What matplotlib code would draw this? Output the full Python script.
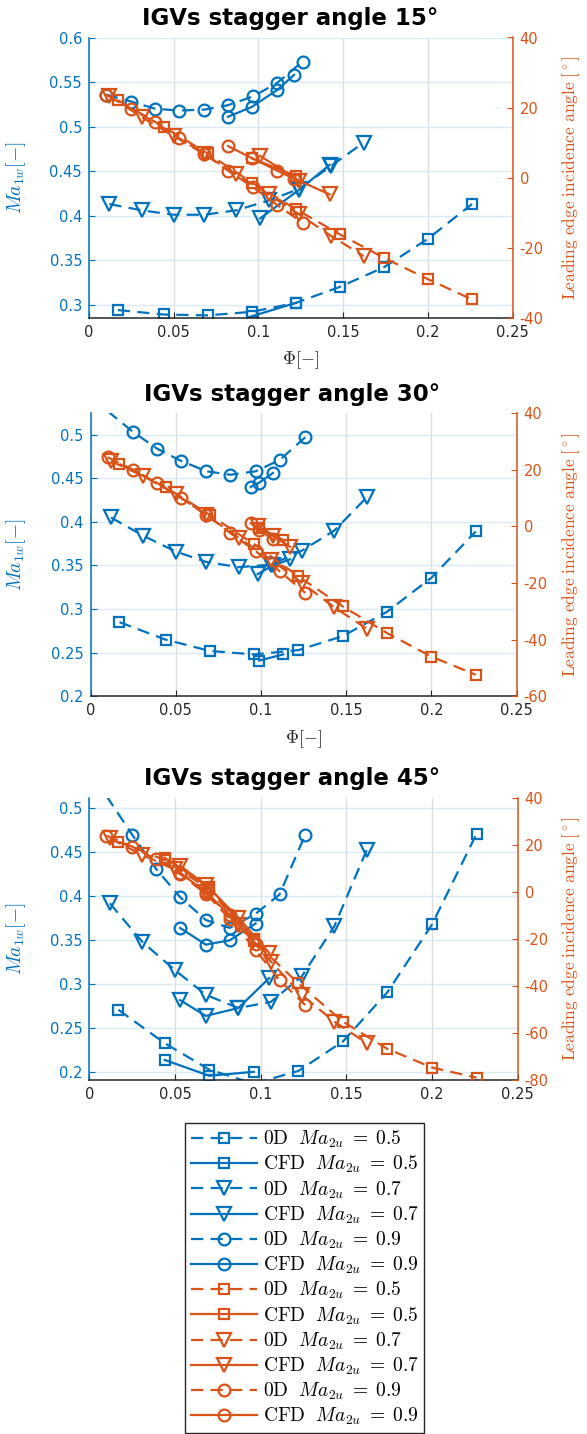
import matplotlib
matplotlib.use('Agg')
import matplotlib.pyplot as plt
from matplotlib.ticker import FuncFormatter

plt.rcParams['mathtext.fontset'] = 'cm'
plt.rcParams['font.family'] = ['DejaVu Sans']

BLUE = '#0072BD'
ORANGE = '#D95319'

# 0D model: phi grid per Ma2u
x_sq_0d = [0.017, 0.044, 0.070, 0.096, 0.122, 0.148, 0.174, 0.200, 0.226]
x_tri_0d = [0.012, 0.031, 0.050, 0.068, 0.087, 0.106, 0.124, 0.143, 0.162]
x_cir_0d = [0.010, 0.025, 0.039, 0.053, 0.068, 0.082, 0.097, 0.111, 0.126]

# --- stagger 15 deg
ma_sq_0d_15 = [0.294, 0.289, 0.288, 0.292, 0.302, 0.320, 0.342, 0.374, 0.413]
ma_tri_0d_15 = [0.413, 0.406, 0.401, 0.401, 0.406, 0.417, 0.430, 0.456, 0.482]
ma_cir_0d_15 = [0.536, 0.528, 0.520, 0.518, 0.519, 0.524, 0.534, 0.549, 0.573]
ang_sq_0d_15 = [22.1, 14.5, 6.9, -1.4, -9.0, -16.2, -22.9, -29.0, -34.8]
ang_tri_0d_15 = [23.3, 17.3, 11.9, 6.7, 0.9, -4.8, -10.5, -16.7, -22.4]
ang_cir_0d_15 = [23.7, 19.6, 15.8, 11.3, 6.8, 2.0, -2.8, -7.8, -12.9]
x_sq_cfd_15 = [0.096, 0.122]
x_tri_cfd_15 = [0.101, 0.124, 0.142]
x_cir_cfd_15 = [0.082, 0.096, 0.111, 0.121]
ma_sq_cfd_15 = [0.287, 0.302]
ma_tri_cfd_15 = [0.397, 0.429, 0.457]
ma_cir_cfd_15 = [0.511, 0.522, 0.541, 0.558]
ang_sq_cfd_15 = [5.5, 0.5]
ang_tri_cfd_15 = [6.2, -0.9, -4.8]
ang_cir_cfd_15 = [9.0, 5.6, 2.0, -0.3]

# --- stagger 30 deg
ma_sq_0d_30 = [0.285, 0.265, 0.252, 0.248, 0.253, 0.269, 0.297, 0.336, 0.389]
ma_tri_0d_30 = [0.405, 0.384, 0.366, 0.354, 0.348, 0.351, 0.367, 0.390, 0.428]
ma_cir_0d_30 = [0.527, 0.503, 0.484, 0.470, 0.458, 0.454, 0.458, 0.471, 0.497]
ang_sq_0d_30 = [22.0, 13.8, 4.0, -6.3, -17.7, -28.3, -37.7, -46.0, -52.4]
ang_tri_0d_30 = [23.0, 17.7, 11.4, 3.9, -4.1, -11.8, -20.0, -28.6, -36.1]
ang_cir_0d_30 = [24.4, 20.0, 15.3, 10.0, 4.1, -2.4, -8.8, -15.9, -23.5]
x_sq_cfd_30 = [0.099, 0.113]
x_tri_cfd_30 = [0.098, 0.107, 0.117]
x_cir_cfd_30 = [0.094, 0.099, 0.107]
ma_sq_cfd_30 = [0.241, 0.248]
ma_tri_cfd_30 = [0.340, 0.350, 0.357]
ma_cir_cfd_30 = [0.440, 0.445, 0.456]
ang_sq_cfd_30 = [-0.5, -4.8]
ang_tri_cfd_30 = [0.0, -3.5, -7.2]
ang_cir_cfd_30 = [1.1, -1.3, -4.6]

# --- stagger 45 deg
ma_sq_0d_45 = [0.271, 0.233, 0.203, 0.187, 0.2015, 0.235, 0.291, 0.368, 0.471]
ma_tri_0d_45 = [0.392, 0.348, 0.316, 0.288, 0.273, 0.280, 0.309, 0.366, 0.453]
ma_cir_0d_45 = [0.514, 0.470, 0.431, 0.399, 0.373, 0.364, 0.380, 0.402, 0.470]
ang_sq_0d_45 = [21.3, 13.5, 1.0, -21.0, -38.9, -55.2, -66.8, -74.7, -79.0]
ang_tri_0d_45 = [22.7, 15.6, 9.7, 0.0, -14.3, -29.7, -43.9, -55.2, -64.4]
ang_cir_0d_45 = [23.9, 19.2, 13.8, 7.5, -0.8, -11.5, -24.7, -37.5, -48.1]
x_sq_cfd_45 = [0.044, 0.070, 0.096]
x_tri_cfd_45 = [0.053, 0.068, 0.087, 0.105]
x_cir_cfd_45 = [0.053, 0.068, 0.082, 0.097]
ma_sq_cfd_45 = [0.214, 0.196, 0.2005]
ma_tri_cfd_45 = [0.282, 0.264, 0.273, 0.307]
ma_cir_cfd_45 = [0.364, 0.345, 0.350, 0.369]
ang_sq_cfd_45 = [14.5, 2.0, -20.0]
ang_tri_cfd_45 = [11.0, 3.0, -11.0, -26.0]
ang_cir_cfd_45 = [8.0, 0.0, -10.0, -22.0]

stagger = [15, 30, 45]
ma_0d = {15: [ma_sq_0d_15, ma_tri_0d_15, ma_cir_0d_15],
         30: [ma_sq_0d_30, ma_tri_0d_30, ma_cir_0d_30],
         45: [ma_sq_0d_45, ma_tri_0d_45, ma_cir_0d_45]}
ang_0d = {15: [ang_sq_0d_15, ang_tri_0d_15, ang_cir_0d_15],
          30: [ang_sq_0d_30, ang_tri_0d_30, ang_cir_0d_30],
          45: [ang_sq_0d_45, ang_tri_0d_45, ang_cir_0d_45]}
x_cfd = {15: [x_sq_cfd_15, x_tri_cfd_15, x_cir_cfd_15],
         30: [x_sq_cfd_30, x_tri_cfd_30, x_cir_cfd_30],
         45: [x_sq_cfd_45, x_tri_cfd_45, x_cir_cfd_45]}
ma_cfd = {15: [ma_sq_cfd_15, ma_tri_cfd_15, ma_cir_cfd_15],
          30: [ma_sq_cfd_30, ma_tri_cfd_30, ma_cir_cfd_30],
          45: [ma_sq_cfd_45, ma_tri_cfd_45, ma_cir_cfd_45]}
ang_cfd = {15: [ang_sq_cfd_15, ang_tri_cfd_15, ang_cir_cfd_15],
           30: [ang_sq_cfd_30, ang_tri_cfd_30, ang_cir_cfd_30],
           45: [ang_sq_cfd_45, ang_tri_cfd_45, ang_cir_cfd_45]}
x_0d = [x_sq_0d, x_tri_0d, x_cir_0d]
ma2u = ['0.5', '0.7', '0.9']
markers = ['s', 'v', 'o']
msizes = [7, 9.5, 8.5]

# axes boxes in pixels (left, right, top, bottom) and limits
W, H = 587, 1434
boxes = {15: (89, 512.7, 37.5, 317.7), 30: (90.5, 516.7, 413, 696.3), 45: (89.3, 517.7, 797.7, 1080)}
ylim_l = {15: (0.2854, 0.6), 30: (0.2, 0.5248), 45: (0.1912, 0.512)}
ylim_r = {15: (-40, 40), 30: (-60, 40), 45: (-80, 40)}
yticks_l = {15: [0.3, 0.35, 0.4, 0.45, 0.5, 0.55, 0.6],
            30: [0.2, 0.25, 0.3, 0.35, 0.4, 0.45, 0.5],
            45: [0.2, 0.25, 0.3, 0.35, 0.4, 0.45, 0.5]}
yticks_r = {15: [-40, -20, 0, 20, 40], 30: [-60, -40, -20, 0, 20, 40],
            45: [-80, -60, -40, -20, 0, 20, 40]}
xticks = [0, 0.05, 0.1, 0.15, 0.2, 0.25]

DASH = (0, (5.5, 3.3))
gfmt = FuncFormatter(lambda v, p: '%g' % round(v, 4))


def inside(y, lim):
    # markers of points outside the limits are not drawn (line still is)
    return [i for i, v in enumerate(y) if lim[0] <= v <= lim[1]]


def label(kind, i):
    return r'$\mathrm{%s}\ \ Ma_{2u}\;=\;%s$' % (kind, ma2u[i])


fig = plt.figure(figsize=(W / 100, H / 100), dpi=100)
handles = []

for k, st in enumerate(stagger):
    l, r, t, b = boxes[st]
    ax = fig.add_axes([l / W, 1 - b / H, (r - l) / W, (b - t) / H])
    ax2 = ax.twinx()
    wpx, hpx = r - l, b - t

    for i in range(3):
        h0, = ax.plot(x_0d[i], ma_0d[st][i], linestyle=DASH, color=BLUE, lw=1.6,
                      marker=markers[i], ms=msizes[i], mfc='none', mew=1.6,
                      markevery=inside(ma_0d[st][i], ylim_l[st]))
        h1, = ax.plot(x_cfd[st][i], ma_cfd[st][i], '-', color=BLUE, lw=1.6,
                      marker=markers[i], ms=msizes[i], mfc='none', mew=1.6)
        if k == 0:
            handles += [(h0, label('0D', i)), (h1, label('CFD', i))]
    for i in range(3):
        h0, = ax2.plot(x_0d[i], ang_0d[st][i], linestyle=DASH, color=ORANGE, lw=1.6,
                       marker=markers[i], ms=msizes[i], mfc='none', mew=1.6,
                       markevery=inside(ang_0d[st][i], ylim_r[st]))
        h1, = ax2.plot(x_cfd[st][i], ang_cfd[st][i], '-', color=ORANGE, lw=1.6,
                       marker=markers[i], ms=msizes[i], mfc='none', mew=1.6)
        if k == 0:
            handles += [(h0, label('0D', i)), (h1, label('CFD', i))]

    ax.set_xlim(0, 0.25)
    ax.set_ylim(*ylim_l[st])
    ax2.set_ylim(*ylim_r[st])
    ax.set_xticks(xticks)
    ax.set_yticks(yticks_l[st])
    ax2.set_yticks(yticks_r[st])
    ax.xaxis.set_major_formatter(gfmt)
    ax.yaxis.set_major_formatter(gfmt)
    ax2.yaxis.set_major_formatter(gfmt)

    ax.set_axisbelow(True)
    ax.grid(True, axis='x', color='#dedede', lw=1)
    ax.grid(True, axis='y', color='#d9eaf5', lw=1)

    for a in (ax, ax2):
        a.spines['top'].set_visible(False)
    ax.spines['left'].set_color(BLUE)
    ax.spines['right'].set_visible(False)
    ax2.spines['left'].set_visible(False)
    ax2.spines['bottom'].set_visible(False)
    ax2.spines['right'].set_color(ORANGE)
    ax.spines['bottom'].set_color('#262626')
    for s in ('left', 'bottom'):
        ax.spines[s].set_linewidth(1.1)
    ax2.spines['right'].set_linewidth(1.1)

    ax.tick_params(axis='x', direction='in', length=4, colors='#262626', labelsize=10.5, pad=5)
    ax.tick_params(axis='y', direction='in', length=4, colors=BLUE, labelsize=10.5, pad=5)
    ax2.tick_params(axis='y', direction='in', length=4, colors=ORANGE, labelsize=10.5, pad=5)

    ax.text(0.474, 1 + 19 / hpx, 'IGVs stagger angle %d°' % st, transform=ax.transAxes,
            ha='center', va='center', fontsize=16.5, fontweight='bold')
    ax.set_ylabel(r'$Ma_{1w}[-]$', color=BLUE, fontsize=14)
    ax.yaxis.set_label_coords((28 - l) / wpx, 0.5)
    ax2.set_ylabel(r'$\mathrm{Leading\ edge\ incidence\ angle\ [^\circ]}$',
                   color=ORANGE, fontsize=12.5, rotation=90)
    ax2.yaxis.set_label_coords((560 - l) / wpx, 0.5)
    if st != 45:
        ax.set_xlabel(r'$\Phi[-]$', fontsize=13, color='#262626')
        ax.xaxis.set_label_coords(0.5, -32 / hpx)

leg = fig.legend([h for h, _ in handles], [s for _, s in handles],
                 loc='upper left', bbox_to_anchor=(185 / W, 1 - 1123 / H),
                 fontsize=14, handlelength=3.4, handletextpad=0.3,
                 labelspacing=0.2, borderpad=0.3, borderaxespad=0,
                 fancybox=False, framealpha=1, edgecolor='#262626')
leg.get_frame().set_linewidth(1.0)

fig.savefig('out.png', dpi=100)
